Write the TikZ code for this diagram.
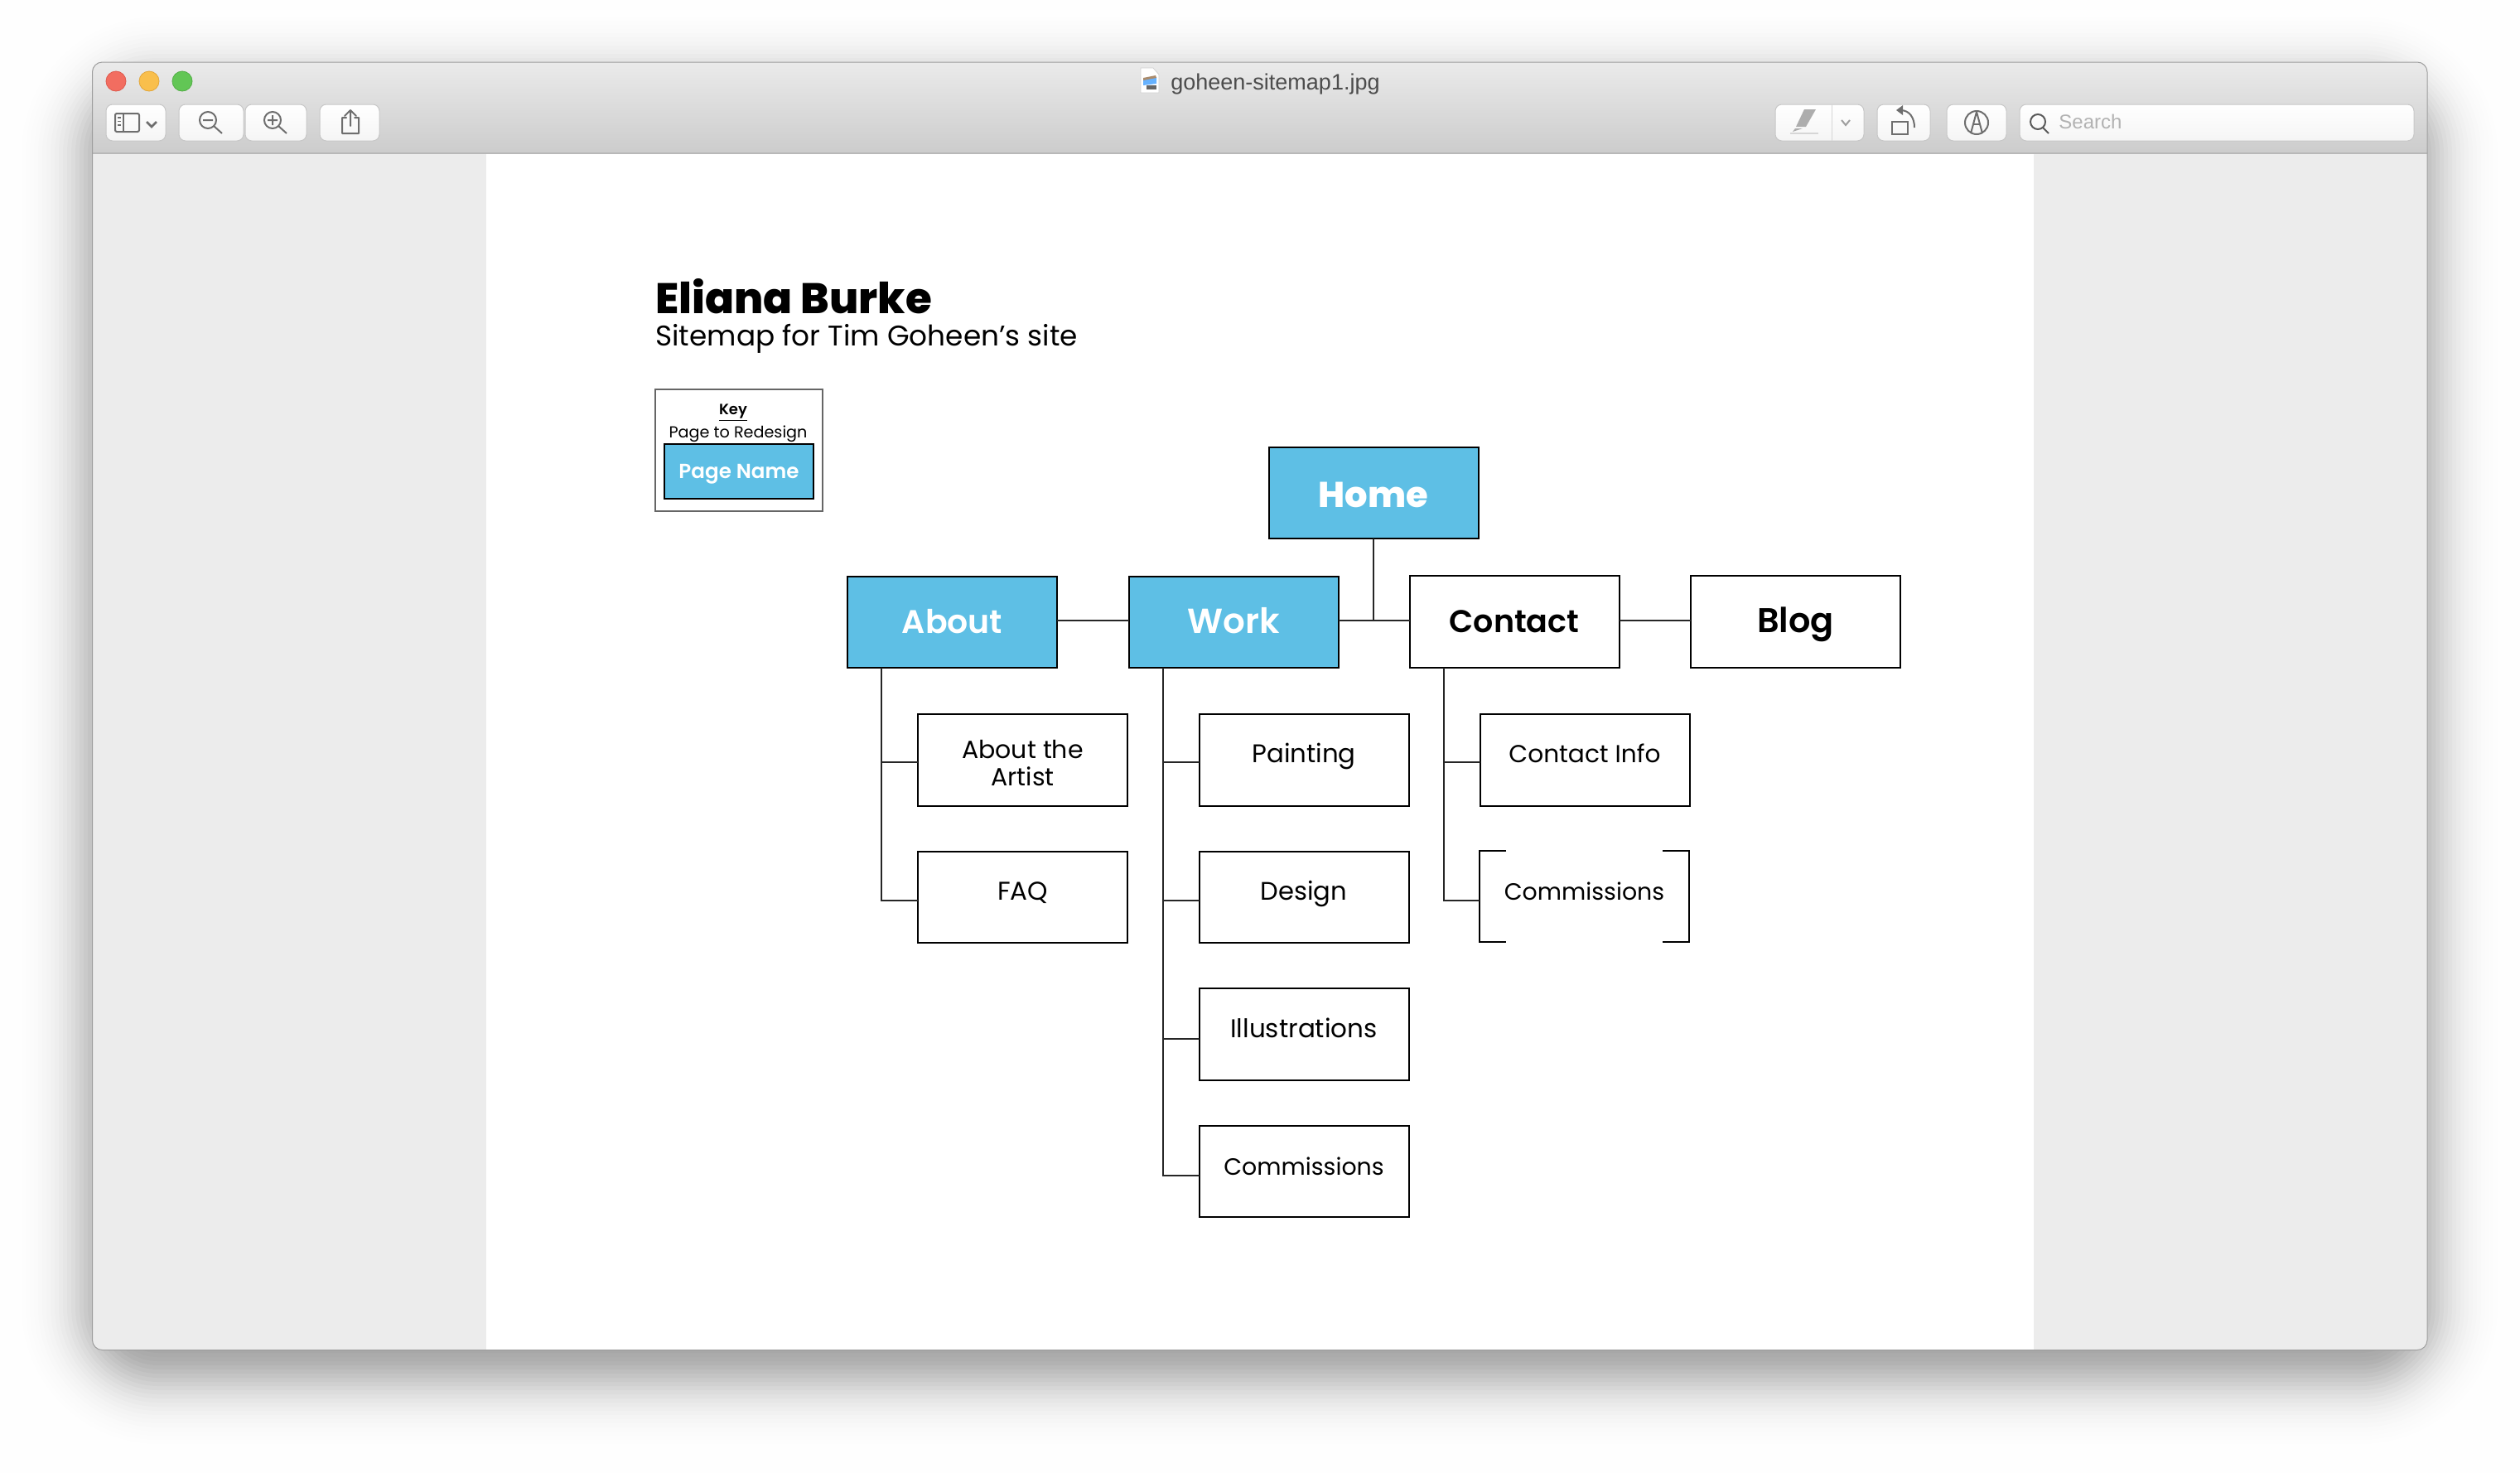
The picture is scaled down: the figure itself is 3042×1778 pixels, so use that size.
\documentclass[tikz,border=0pt]{standalone}
\usepackage{fontspec}
\setmainfont{Poppins}
\newfontfamily\uifont{Liberation Sans}
\newfontfamily\heavy{Poppins ExtraBold}
\newfontfamily\semi{Poppins SemiBold}
\newfontfamily\medium{Poppins Medium}
\definecolor{sky}{HTML}{5EBFE5}
\definecolor{iconc}{HTML}{6E6E6E}
\definecolor{tlred}{HTML}{F26D60}
\definecolor{tlredb}{HTML}{DE5A4E}
\definecolor{tlyel}{HTML}{F9BF4C}
\definecolor{tlyelb}{HTML}{E2A63A}
\definecolor{tlgrn}{HTML}{62C655}
\definecolor{tlgrnb}{HTML}{52AE46}
\definecolor{panel}{HTML}{ECECEC}
\newcommand{\lbl}[2]{\makebox[0pt][c]{\raisebox{#1}[0pt][0pt]{#2}}}
\tikzset{
  pagebox/.style={draw=black,line width=1pt,minimum width=126.5pt,minimum height=55.25pt,inner sep=0pt,outer sep=0pt},
  bluebox/.style={pagebox,fill=sky,text=white},
  plainbox/.style={pagebox,fill=white,text=black},
  nobox/.style={pagebox,draw=none},
  conn/.style={draw=black!85,line width=1pt},
  btn/.style={draw=black!22,line width=.5pt,rounded corners=4pt,top color=white,bottom color=black!4},
  ico/.style={draw=iconc,line width=1pt},
  uitext/.style={inner sep=0pt,anchor=base west,font=\uifont},
  basetext/.style={inner sep=0pt,anchor=base}
}
\begin{document}
\begin{tikzpicture}[x=0.5pt,y=-0.5pt]
\useasboundingbox (0,0) rectangle (3042,1778);
\fill[white!99.5!black] (0,0) rectangle (3042,1778);
% soft window shadow
\foreach \d in {-100,-95,...,100}{
  \pgfmathsetmacro\al{0.0245*exp(-\d*\d/3200)}
  \pgfmathsetmacro\rr{max(4,40+0.5*\d)}
  \fill[black,fill opacity=\al,rounded corners=\rr pt] (111-\d,105-\d) rectangle (2930+\d,1658+\d);
}
% window
\fill[panel,rounded corners=6pt] (111.5,75) rectangle (2930,1629.5);
\fill[white] (587,185) rectangle (2455,1629.5);
\shade[top color=black!8,bottom color=black!20,rounded corners=6pt] (111.5,185) [sharp corners] -- (111.5,185) [rounded corners=6pt] -- (111.5,75) -- (2930,75) [sharp corners] -- (2930,185) -- cycle;
\draw[black!28,line width=.6pt] (111.5,185) -- (2930,185);
\draw[black!38,line width=.5pt,rounded corners=6pt] (111.5,75) rectangle (2930,1629.5);
% traffic lights
\fill[draw=tlredb,fill=tlred,line width=.4pt] (140,98) circle (12);
\fill[draw=tlyelb,fill=tlyel,line width=.4pt] (180,98) circle (12);
\fill[draw=tlgrnb,fill=tlgrn,line width=.4pt] (220,98) circle (12);
% left buttons
\path[btn] (128,126) rectangle (200,170);
\path[btn] (216,126) rectangle (294,170);
\path[btn] (296,126) rectangle (370,170);
\path[btn] (386,126) rectangle (458,170);
% sidebar icon
\draw[ico,rounded corners=1pt] (139,137) rectangle (168,159);
\draw[ico] (149,137) -- (149,159);
\draw[ico,line width=.8pt] (142,142) -- (146,142) (142,146.5) -- (146,146.5) (142,151) -- (146,151);
\draw[ico,line width=1.4pt] (177,147) -- (183,153) -- (189,147);
% zoom out / in
\draw[ico] (251,145) circle (10) (245,145) -- (257,145) (258,152) -- (268,161);
\draw[ico] (329,145) circle (10) (323,145) -- (335,145) (329,139) -- (329,151) (336,152) -- (346,161);
% share
\draw[ico,line cap=round,line join=round] (418,142) -- (413,142) -- (413,161) -- (433,161) -- (433,142) -- (428,142) (423,133) -- (423,152) (416,140) -- (423,133) -- (430,140);
% title
\node[uitext,text=black!70] (wintitle) at (1413,108) {\fontsize{13.5pt}{14pt}\selectfont goheen-sitemap1.jpg};
% file icon
\draw[black!18,fill=white,line width=.4pt] (1377,82) -- (1392,82) -- (1399,90) -- (1399,112) -- (1377,112) -- cycle;
\fill[blue!50!cyan!60!white] (1380,96) -- (1396,93) -- (1396,101) -- (1380,103) -- cycle;
\fill[brown!70!black!70!white] (1380,94) -- (1395,91) -- (1396,94) -- (1380,97) -- cycle;
\fill[black!60] (1384,103) rectangle (1396,108);
% right buttons
\path[btn] (2143,126) rectangle (2250,170);
\draw[black!16,line width=.5pt] (2211,126) -- (2211,170);
\path[btn] (2266,126) rectangle (2330,170);
\path[btn] (2350,126) rectangle (2422,170);
\path[btn] (2438,126) rectangle (2914,170);
% highlight icon
\fill[black!32] (2178,132) -- (2192,132) -- (2180,153) -- (2168,153) -- cycle;
\fill[black!32] (2167,155) -- (2176,155) -- (2164,159) -- cycle;
\draw[black!16,line width=1.2pt] (2161,161) -- (2195,161);
\draw[black!38,line width=1pt] (2223,145) -- (2228,151) -- (2233,145);
% rotate icon
\draw[ico] (2284,147) rectangle (2303,162);
\draw[ico] (2311,154) .. controls (2311,142) and (2305,133) .. (2294,133);
\fill[iconc] (2289,133) -- (2297,127) -- (2297,139) -- cycle;
% markup icon
\draw[ico] (2386,148) circle (14);
\draw[ico,line join=round] (2379,161) -- (2386,135) -- (2393,161);
\draw[ico,line width=.7pt] (2382,150) -- (2390,150);
% search
\draw[draw=black!65,line width=1pt] (2460,147) circle (9) (2466,154) -- (2473,161);
\node[uitext,text=black!30] (searchtext) at (2485,155) {\fontsize{12pt}{14pt}\selectfont Search};
% heading
\node[basetext,anchor=base west] (title) at (791,378) {\heavy\fontsize{25.8pt}{26pt}\selectfont Eliana Burke};
\node[basetext,anchor=base west] (subtitle) at (791,417) {\fontsize{17.15pt}{18pt}\selectfont Sitemap for Tim Goheen’s site};
% key
\node[draw=black!60,line width=.8pt,fill=white,minimum width=101pt,minimum height=73.5pt,inner sep=0pt,outer sep=0pt] (keybox) at (892,543.5) {};
\node[basetext] (keyword) at (885,500) {\semi\fontsize{9pt}{10pt}\selectfont \underline{Key}};
\node[basetext] (keysub) at (891,528) {\fontsize{9.6pt}{10pt}\selectfont Page to Redesign};
\node[fill=sky,draw=black,line width=1pt,minimum width=90pt,minimum height=33pt,inner sep=0pt,outer sep=0pt,text=white] (keypage) at (892,569) {\lbl{-4pt}{\semi\fontsize{12.3pt}{14pt}\selectfont Page Name}};
% top level
\node[bluebox] (home) at (1658,595) {\lbl{-8.5pt}{\heavy\fontsize{21.6pt}{24pt}\selectfont Home}};
\node[bluebox] (about) at (1149.5,751) {\lbl{-6.5pt}{\semi\fontsize{19.7pt}{24pt}\selectfont About}};
\node[bluebox] (work) at (1489.5,751) {\lbl{-6.5pt}{\semi\fontsize{21pt}{24pt}\selectfont Work}};
\node[plainbox] (contact) at (1828,750.5) {\lbl{-6.5pt}{\semi\fontsize{19pt}{24pt}\selectfont Contact}};
\node[plainbox] (blog) at (2167.5,750.5) {\lbl{-6.5pt}{\semi\fontsize{20.7pt}{24pt}\selectfont Blog}};
% second level
\node[plainbox] (artist) at (1234.5,917.5) {\lbl{1.25pt}{\fontsize{15pt}{16pt}\selectfont About the}\lbl{-15.5pt}{\fontsize{15pt}{16pt}\selectfont Artist}};
\node[plainbox] (faq) at (1234.5,1083) {\lbl{-1.5pt}{\fontsize{15.5pt}{16pt}\selectfont FAQ}};
\node[plainbox] (painting) at (1574,917.5) {\lbl{-1.5pt}{\fontsize{15.4pt}{16pt}\selectfont Painting}};
\node[plainbox] (design) at (1574,1083) {\lbl{-1.5pt}{\fontsize{15.3pt}{16pt}\selectfont Design}};
\node[plainbox] (illus) at (1574,1248.5) {\lbl{-1.75pt}{\fontsize{15.5pt}{16pt}\selectfont Illustrations}};
\node[plainbox] (commwork) at (1574,1414) {\lbl{-2pt}{\fontsize{14.2pt}{16pt}\selectfont Commissions}};
\node[plainbox] (cinfo) at (1913,917.5) {\lbl{-1.5pt}{\fontsize{14.8pt}{16pt}\selectfont Contact Info}};
\node[nobox] (commcontact) at (1912.5,1082) {\lbl{-2pt}{\fontsize{14.2pt}{16pt}\selectfont Commissions}};
% brackets of the unfinished box
\draw[conn,draw=black] ([xshift=16pt]commcontact.north west) -- (commcontact.north west) -- (commcontact.south west) -- ([xshift=16pt]commcontact.south west);
\draw[conn,draw=black] ([xshift=-16pt]commcontact.north east) -- (commcontact.north east) -- (commcontact.south east) -- ([xshift=-16pt]commcontact.south east);
% connectors
\draw[conn] (home.south) -- ([yshift=.75pt]home.south |- contact.west);
\draw[conn] ([yshift=1pt]about.east) -- ([yshift=1pt]work.west);
\draw[conn] ([yshift=1pt]work.east) -- ([yshift=.75pt]contact.west);
\draw[conn] ([yshift=.75pt]contact.east) -- ([yshift=.75pt]blog.west);
\draw[conn] ([xshift=20.5pt]about.south west) |- ([yshift=-1.25pt]artist.west);
\draw[conn] ([xshift=20.5pt]about.south west) |- ([yshift=-2pt]faq.west);
\draw[conn] ([xshift=20.5pt]work.south west) |- ([yshift=-1.25pt]painting.west);
\draw[conn] ([xshift=20.5pt]work.south west) |- ([yshift=-2pt]design.west);
\draw[conn] ([xshift=20.5pt]work.south west) |- ([yshift=-2.75pt]illus.west);
\draw[conn] ([xshift=20.5pt]work.south west) |- ([yshift=-2.5pt]commwork.west);
\draw[conn] ([xshift=20.5pt]contact.south west) |- ([yshift=-1.25pt]cinfo.west);
\draw[conn] ([xshift=20.5pt]contact.south west) |- ([yshift=-2.5pt]commcontact.west);
\end{tikzpicture}
\end{document}
